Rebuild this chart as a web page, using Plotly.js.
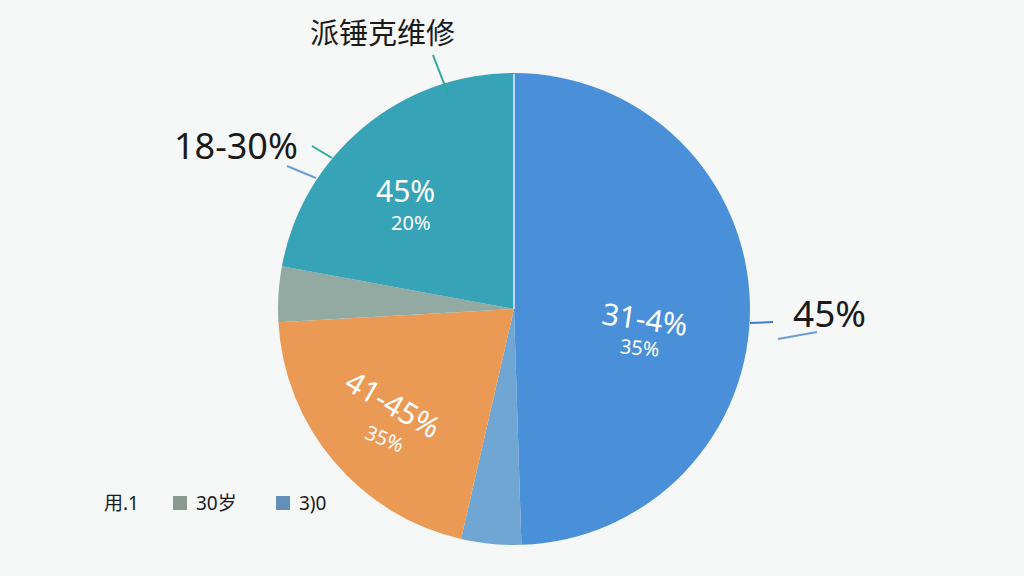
<!DOCTYPE html>
<html>
<head>
<meta charset="utf-8">
<script src="https://cdn.plot.ly/plotly-3.0.1.min.js"></script>
<style>
  html, body { margin: 0; padding: 0; background: #f6f7f7; }
  #chart { width: 1024px; height: 576px; }
</style>
</head>
<body>
<div id="chart"></div>
<script>
// slices, clockwise from 12 o'clock
const sliceNames = ['31-40', '30+', '41-45', '30岁', '18-30'];
const sliceValues = [49.5, 4.1, 20.5, 3.8, 22.1];
const sliceColors = ['#4a90d9', '#6fa6d3', '#eb9a56', '#93aaa3', '#36a3b6'];

// legend (as drawn in the picture)
const legendLabels = ['用.1', '30岁', '3)0'];
const legendColors = ['rgba(0,0,0,0)', '#8a9a92', '#6390b8'];

const font = '"Noto Sans", "Noto Sans CJK SC", sans-serif';

const trace = {
    type: 'pie',
    labels: sliceNames,
    values: sliceValues,
    sort: false,
    direction: 'clockwise',
    rotation: 0,
    textinfo: 'none',
    hoverinfo: 'label+percent',
    marker: { colors: sliceColors, line: { width: 0 } },
    domain: { x: [0.2715, 0.7324], y: [0.0538, 0.8733] },
    showlegend: false
};

const annotations = [
    // inside labels
    { x: 405, y: 190, text: '45%', size: 30, color: '#ffffff', angle: 0 },
    { x: 411, y: 222, text: '20%', size: 20, color: '#ffffff', angle: 0 },
    { x: 645, y: 318, text: '31-4%', size: 30, color: '#ffffff', angle: 8 },
    { x: 640, y: 347, text: '35%', size: 20, color: '#ffffff', angle: 5 },
    { x: 393, y: 403, text: '41-45%', size: 30, color: '#ffffff', angle: 30 },
    { x: 385, y: 438, text: '35%', size: 20, color: '#ffffff', angle: 22 },
    // outside labels
    { x: 382, y: 33, text: '派锤克维修', size: 29, color: '#1a1a1a', angle: 0 },
    { x: 236, y: 145, text: '18-30%', size: 36, color: '#1a1a1a', angle: 0 },
    { x: 829, y: 312, text: '45%', size: 37, color: '#1a1a1a', angle: 0 }
].map(a => ({
    xref: 'paper', yref: 'paper',
    x: a.x / 1024, y: 1 - a.y / 576,
    xanchor: 'center', yanchor: 'middle',
    text: a.text, showarrow: false, textangle: a.angle,
    font: { family: font, size: a.size, color: a.color }
}));

const px = (x, y) => [x / 1024, 1 - y / 576];
const leader = (x0, y0, x1, y1, color, w) => {
    const [a, b] = px(x0, y0), [c, d] = px(x1, y1);
    return { type: 'line', xref: 'paper', yref: 'paper', x0: a, y0: b, x1: c, y1: d,
             line: { color: color, width: w || 2 } };
};

const shapes = [
    // thin white seam between teal and blue slices
    leader(514, 74, 514, 309, 'rgba(255,255,255,0.85)', 1.5),
    leader(433, 55, 448, 94, '#2fa89a'),
    leader(312, 146, 332, 158, '#2fa89a'),
    leader(287, 166, 316, 178, '#6c9fd6'),
    leader(750, 323, 773, 322, '#3b7fd0'),
    leader(778, 339, 817, 332, '#6c9fd6')
];

// legend row
const legendX = [120, 180, 283];
legendLabels.forEach((label, i) => {
    const [a, b] = px(legendX[i] - 7, 496), [c, d] = px(legendX[i] + 7, 510);
    shapes.push({ type: 'rect', xref: 'paper', yref: 'paper', x0: a, y0: b, x1: c, y1: d,
                  fillcolor: legendColors[i], line: { width: 0 } });
    annotations.push({
        xref: 'paper', yref: 'paper',
        x: (i === 0 ? legendX[i] - 18 : legendX[i] + 14) / 1024, y: 1 - 503 / 576,
        xanchor: 'left', yanchor: 'middle', showarrow: false,
        text: label, font: { family: font, size: 19, color: '#1a1a1a' }
    });
});

const layout = {
    width: 1024,
    height: 576,
    margin: { t: 0, b: 0, l: 0, r: 0 },
    paper_bgcolor: '#f6f7f7',
    plot_bgcolor: '#f6f7f7',
    showlegend: false,
    annotations: annotations,
    shapes: shapes
};

Plotly.newPlot('chart', [trace], layout, { displayModeBar: false });
</script>
</body>
</html>
